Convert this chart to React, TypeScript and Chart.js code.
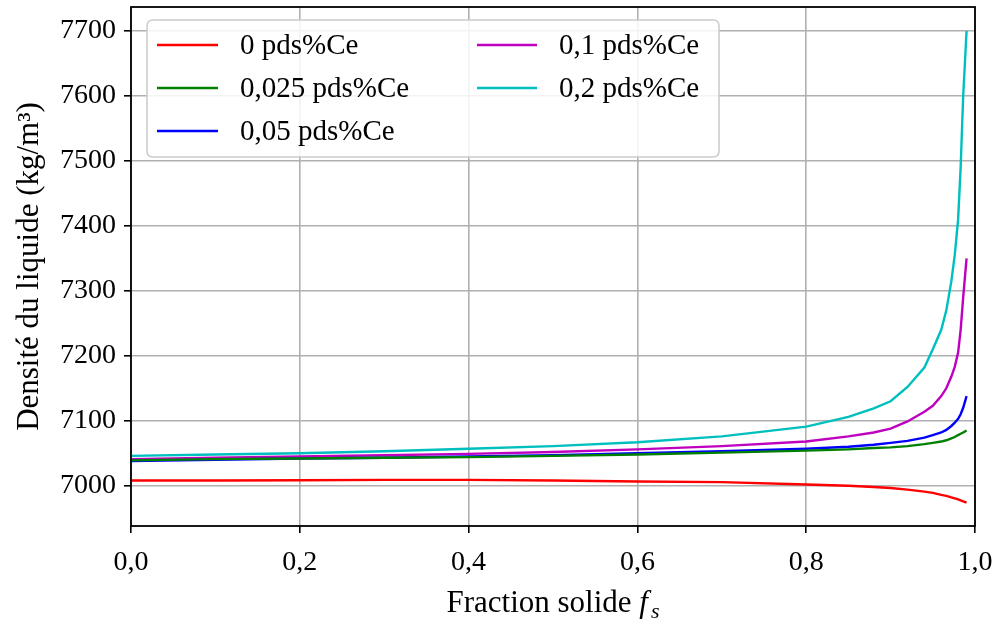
import React, { useEffect, useRef } from "react";
import { Chart, registerables } from "chart.js";

Chart.register(...registerables);

// Solid fraction (x)
const fs = [0, 0.1, 0.2, 0.3, 0.4, 0.5, 0.6, 0.7, 0.8, 0.85, 0.88, 0.9, 0.92, 0.94, 0.95, 0.96, 0.966, 0.972, 0.976, 0.98, 0.983, 0.986, 0.99];

// Liquid density (kg/m3) per Ce content
const ce0 = [7008, 7008, 7008.5, 7009, 7009, 7008, 7006.5, 7005.5, 7002, 7000, 6998, 6996.5, 6994, 6991, 6989, 6986, 6984.5, 6982, 6980.5, 6979, 6977.5, 6976, 6974];
const ce0025 = [7039, 7041, 7042, 7043, 7044, 7046, 7048, 7051, 7054, 7056, 7058, 7059, 7061, 7064, 7066, 7068, 7070, 7073, 7075, 7078, 7080, 7082, 7085];
const ce005 = [7038, 7040, 7042, 7043, 7045, 7047, 7050, 7053, 7057, 7060, 7063, 7066, 7069, 7074, 7078, 7082, 7086, 7092, 7097, 7103, 7110, 7120, 7138];
const ce01 = [7041, 7043, 7045, 7047, 7049, 7052, 7056, 7061, 7068, 7076, 7082, 7088, 7099, 7114, 7123, 7138, 7150, 7168, 7183, 7205, 7240, 7290, 7350];
const ce02 = [7046, 7048, 7050, 7053, 7057, 7061, 7067, 7076, 7091, 7106, 7119, 7130, 7152, 7182, 7210, 7240, 7270, 7315, 7355, 7410, 7490, 7600, 7700];

const seriesLabels = ["0 pds%Ce", "0,025 pds%Ce", "0,05 pds%Ce", "0,1 pds%Ce", "0,2 pds%Ce"];
const seriesColors = ["#ff0000", "#008000", "#0000ff", "#bf00bf", "#00bfbf"];
const seriesValues = [ce0, ce0025, ce005, ce01, ce02];

const xTicks = [0, 0.2, 0.4, 0.6, 0.8, 1.0];
const xTickLabels = ["0,0", "0,2", "0,4", "0,6", "0,8", "1,0"];
const yTicks = [7000, 7100, 7200, 7300, 7400, 7500, 7600, 7700];
const yTickLabels = ["7000", "7100", "7200", "7300", "7400", "7500", "7600", "7700"];

const xTitleMain = "Fraction solide ";
const yTitle = "Densité du liquide (kg/m³)";

const FONT_FAMILY = '"Liberation Serif", "Times New Roman", serif';
const FS = 28;
const FS_LEG = 29;
const FS_TITLE = 31;

const decorPlugin = {
  id: "decor",
  afterDraw(chart: any) {
    const { ctx, chartArea } = chart;
    const { left, right, top, bottom } = chartArea;
    ctx.save();
    // frame
    ctx.strokeStyle = "#000";
    ctx.lineWidth = 1.8;
    ctx.strokeRect(left, top, right - left, bottom - top);

    // legend
    const bx = 147, by = 20, bw = 572, bh = 137, r = 6;
    ctx.beginPath();
    ctx.moveTo(bx + r, by);
    ctx.lineTo(bx + bw - r, by);
    ctx.quadraticCurveTo(bx + bw, by, bx + bw, by + r);
    ctx.lineTo(bx + bw, by + bh - r);
    ctx.quadraticCurveTo(bx + bw, by + bh, bx + bw - r, by + bh);
    ctx.lineTo(bx + r, by + bh);
    ctx.quadraticCurveTo(bx, by + bh, bx, by + bh - r);
    ctx.lineTo(bx, by + r);
    ctx.quadraticCurveTo(bx, by, bx + r, by);
    ctx.closePath();
    ctx.fillStyle = "rgba(255,255,255,0.85)";
    ctx.fill();
    ctx.strokeStyle = "#cccccc";
    ctx.lineWidth = 1.6;
    ctx.stroke();

    const cols = [
      { lx0: 157, lx1: 218, tx: 240 },
      { lx0: 477, lx1: 537, tx: 559 },
    ];
    const rows = [45, 88, 131];
    ctx.font = `${FS_LEG}px ${FONT_FAMILY}`;
    ctx.textBaseline = "middle";
    ctx.textAlign = "left";
    seriesLabels.forEach((lab, i) => {
      const c = cols[Math.floor(i / 3)];
      const yy = rows[i % 3];
      ctx.strokeStyle = seriesColors[i];
      ctx.lineWidth = 2.4;
      ctx.beginPath();
      ctx.moveTo(c.lx0, yy);
      ctx.lineTo(c.lx1, yy);
      ctx.stroke();
      ctx.fillStyle = "#000";
      ctx.fillText(lab, c.tx, yy + 1);
    });

    // x title
    ctx.textBaseline = "alphabetic";
    ctx.fillStyle = "#000";
    ctx.font = `${FS_TITLE}px ${FONT_FAMILY}`;
    const w1 = ctx.measureText(xTitleMain).width;
    ctx.font = `italic ${FS_TITLE}px ${FONT_FAMILY}`;
    const w2 = ctx.measureText("f").width;
    ctx.font = `italic ${Math.round(FS_TITLE * 0.7)}px ${FONT_FAMILY}`;
    const w3 = ctx.measureText("s").width;
    const total = w1 + w2 + 3 + w3;
    const x0 = (left + right) / 2 - total / 2;
    const base = 612;
    ctx.font = `${FS_TITLE}px ${FONT_FAMILY}`;
    ctx.fillText(xTitleMain, x0, base);
    ctx.font = `italic ${FS_TITLE}px ${FONT_FAMILY}`;
    ctx.fillText("f", x0 + w1, base);
    ctx.font = `italic ${Math.round(FS_TITLE * 0.7)}px ${FONT_FAMILY}`;
    ctx.fillText("s", x0 + w1 + w2 + 3, base + 6);

    // y title
    ctx.font = `${FS_TITLE}px ${FONT_FAMILY}`;
    ctx.translate(38, (top + bottom) / 2);
    ctx.rotate(-Math.PI / 2);
    ctx.textAlign = "center";
    ctx.fillText(yTitle, 0, 0);
    ctx.restore();
  },
};

export default function App() {
  const ref = useRef<HTMLCanvasElement>(null);
  useEffect(() => {
    if (!ref.current) return;
    const chart = new Chart(ref.current, {
      type: "line",
      data: {
        datasets: seriesValues.map((vals, i) => ({
          label: seriesLabels[i],
          data: fs.map((x, j) => ({ x, y: vals[j] })),
          borderColor: seriesColors[i],
          backgroundColor: seriesColors[i],
          borderWidth: 2.4,
          pointRadius: 0,
          tension: 0,
          fill: false,
        })),
      },
      options: {
        animation: false,
        responsive: false,
        maintainAspectRatio: false,
        layout: { padding: { left: 0, right: 21, top: 7, bottom: 0 } },
        plugins: { legend: { display: false }, tooltip: { enabled: false } },
        scales: {
          x: {
            type: "linear",
            min: 0,
            max: 1,
            afterBuildTicks: (s: any) => {
              s.ticks = xTicks.map((v) => ({ value: v }));
            },
            afterFit: (s: any) => {
              s.height = 94;
              s.paddingLeft = 0;
              s.paddingRight = 0;
            },
            ticks: {
              autoSkip: false,
              maxRotation: 0,
              color: "#000",
              padding: 13,
              font: { family: FONT_FAMILY, size: FS },
              callback: (_v: any, i: number) => xTickLabels[i],
            },
            grid: { color: "#b0b0b0", lineWidth: 1.6, tickLength: 7, tickColor: "#000", tickWidth: 1.6 },
            border: { display: false },
          },
          y: {
            type: "linear",
            min: 6938,
            max: 7737,
            afterBuildTicks: (s: any) => {
              s.ticks = yTicks.map((v) => ({ value: v }));
            },
            afterFit: (s: any) => {
              s.width = 131;
              s.paddingTop = 0;
              s.paddingBottom = 0;
            },
            ticks: {
              autoSkip: false,
              color: "#000",
              padding: 8,
              font: { family: FONT_FAMILY, size: FS },
              callback: (_v: any, i: number) => yTickLabels[i],
            },
            grid: { color: "#b0b0b0", lineWidth: 1.6, tickLength: 7, tickColor: "#000", tickWidth: 1.6 },
            border: { display: false },
          },
        },
      },
      plugins: [decorPlugin],
    } as any);
    return () => chart.destroy();
  }, []);
  return (
    <div style={{ position: "fixed", left: 0, top: 0, width: 996, height: 620, background: "#fff" }}>
      <canvas ref={ref} width={996} height={620} />
    </div>
  );
}
